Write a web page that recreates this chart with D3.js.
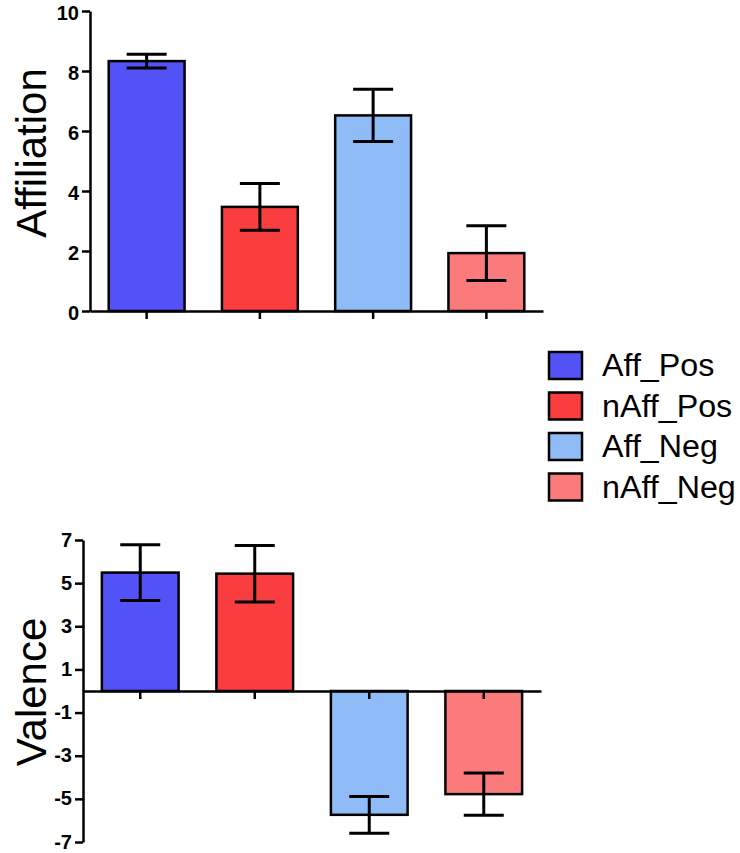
<!DOCTYPE html>
<html>
<head>
<meta charset="utf-8">
<script src="https://cdn.jsdelivr.net/npm/d3@7"></script>
<style>
  body { margin: 0; background: #fff; }
  svg { display: block; font-family: "Liberation Sans", Arial, sans-serif; }
</style>
</head>
<body>
<svg width="740" height="853"></svg>
<script>
var groups = ["Aff_Pos", "nAff_Pos", "Aff_Neg", "nAff_Neg"];
var colors = ["#5252f7", "#fa3d3f", "#8fbcf7", "#fb7a7b"];

var affMean = [8.33, 3.47, 6.52, 1.93];
var affErr = [0.23, 0.78, 0.87, 0.91];
var affTicks = [0, 2, 4, 6, 8, 10];

var valMean = [5.49, 5.44, -5.74, -4.78];
var valErr = [1.29, 1.31, 0.85, 0.98];
var valTicks = [-7, -5, -3, -1, 1, 3, 5, 7];

var svg = d3.select("svg");

// one panel: bars + error bars + axes
function panel(o) {
  var x = d3.scaleBand().domain(groups).range([o.x0, o.x1]).paddingInner(0.33).paddingOuter(0.165);
  var y = d3.scaleLinear().domain(o.domain).range([o.y1, o.y0]);
  var g = svg.append("g");
  var rows = groups.map(function(k, i) { return { k: k, v: o.mean[i], e: o.err[i], c: colors[i] } });

  g.selectAll("rect.bar").data(rows).enter().append("rect")
    .attr("x", function(d) { return x(d.k) })
    .attr("width", x.bandwidth())
    .attr("y", function(d) { return y(Math.max(0, d.v)) })
    .attr("height", function(d) { return Math.abs(y(d.v) - y(0)) })
    .attr("fill", function(d) { return d.c })
    .attr("stroke", "#000").attr("stroke-width", 2.5);

  var cap = 20;
  var eb = g.selectAll("g.err").data(rows).enter().append("g")
    .attr("stroke", "#000").attr("stroke-width", 3);
  eb.append("line")
    .attr("x1", function(d) { return x(d.k) + x.bandwidth() / 2 })
    .attr("x2", function(d) { return x(d.k) + x.bandwidth() / 2 })
    .attr("y1", function(d) { return y(d.v - d.e) })
    .attr("y2", function(d) { return y(d.v + d.e) });
  [-1, 1].forEach(function(s) {
    eb.append("line")
      .attr("x1", function(d) { return x(d.k) + x.bandwidth() / 2 - cap })
      .attr("x2", function(d) { return x(d.k) + x.bandwidth() / 2 + cap })
      .attr("y1", function(d) { return y(d.v + s * d.e) })
      .attr("y2", function(d) { return y(d.v + s * d.e) });
  });

  var ya = g.append("g").attr("transform", "translate(" + o.x0 + ",0)")
    .call(d3.axisLeft(y).tickValues(o.ticks).tickSize(8).tickSizeOuter(0).tickPadding(3)
      .tickFormat(function(d) { return String(d) }));
  var xa = g.append("g").attr("transform", "translate(0," + y(0) + ")")
    .call(d3.axisBottom(x).tickSize(8).tickSizeOuter(0).tickFormat(""));
  [ya, xa].forEach(function(a) {
    a.selectAll("path, line").attr("stroke", "#000").attr("stroke-width", 2.5);
  });
  ya.selectAll("text").attr("font-size", 20).attr("font-weight", "bold").attr("dy", o.dy)
    .attr("font-family", "Liberation Sans, Arial, sans-serif").attr("fill", "#000");

  svg.append("text")
    .attr("transform", "translate(" + o.tx + "," + o.ty + ") rotate(-90)")
    .attr("text-anchor", "middle")
    .attr("font-size", 42)
    .text(o.title);
}

panel({ x0: 90, x1: 543, y0: 11, y1: 311, domain: [0, 10], ticks: affTicks, dy: "0.42em",
  mean: affMean, err: affErr, title: "Affiliation", tx: 46, ty: 153 });
panel({ x0: 83, x1: 541, y0: 540, y1: 842, domain: [-7, 7], ticks: valTicks, dy: "0.3em",
  mean: valMean, err: valErr, title: "Valence", tx: 46, ty: 692 });

// legend
var leg = svg.selectAll("g.leg").data(groups).enter().append("g")
  .attr("transform", function(d, i) { return "translate(549," + (352 + i * 40.5) + ")" });
leg.append("rect").attr("width", 33).attr("height", 27)
  .attr("fill", function(d, i) { return colors[i] })
  .attr("stroke", "#000").attr("stroke-width", 2.5);
leg.append("text").attr("x", 51).attr("y", 24).attr("font-size", 31)
  .attr("transform", "scale(1.04,1)")
  .text(function(d) { return d });
</script>
</body>
</html>
